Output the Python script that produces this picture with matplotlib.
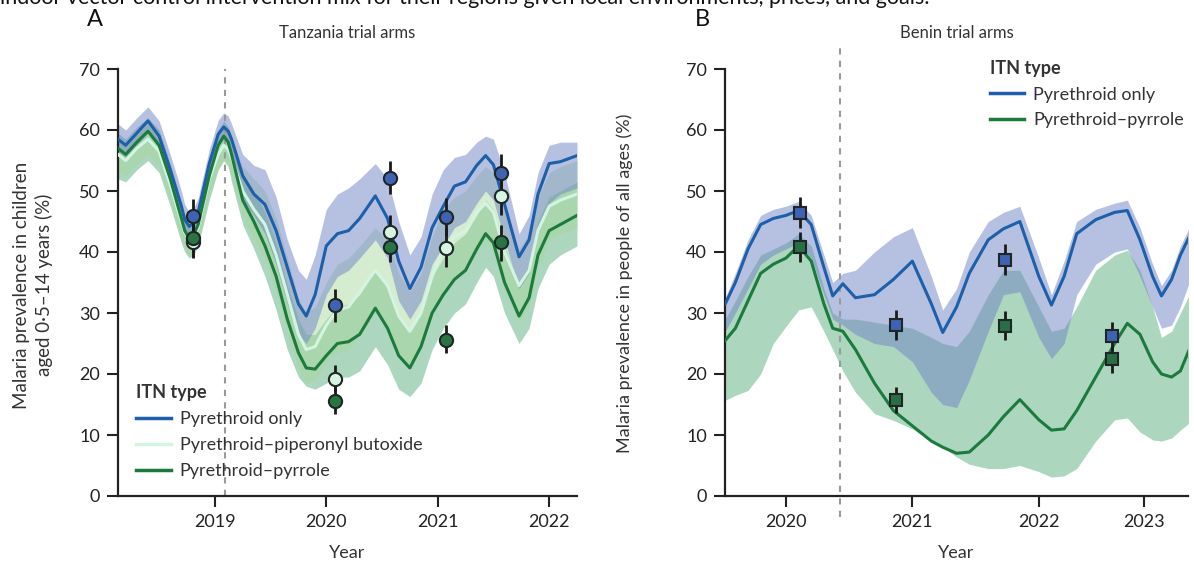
import matplotlib
matplotlib.use("Agg")
import matplotlib.pyplot as plt
from matplotlib.lines import Line2D

plt.rcParams['font.family'] = ['Lato', 'DejaVu Sans']
plt.rcParams['text.color'] = '#333333'
plt.rcParams['axes.labelcolor'] = '#333333'
plt.rcParams['xtick.color'] = '#222222'
plt.rcParams['ytick.color'] = '#222222'

# ---- Tanzania trial arms (panel A) ----
t_a = [2018.13, 2018.2, 2018.3, 2018.4, 2018.5, 2018.6, 2018.7, 2018.73, 2018.77, 2018.81,
       2018.85, 2018.95, 2019.03, 2019.08, 2019.12, 2019.15, 2019.25, 2019.35, 2019.45, 2019.55,
       2019.65, 2019.75, 2019.82, 2019.9, 2020.0, 2020.1, 2020.2, 2020.3, 2020.44, 2020.55,
       2020.65, 2020.75, 2020.85, 2020.95, 2021.05, 2021.15, 2021.25, 2021.35, 2021.43, 2021.5,
       2021.6, 2021.73, 2021.82, 2021.9, 2022.0, 2022.1, 2022.25]

a_pyr = [58.5, 57.5, 59.5, 61.5, 59, 53.5, 47.5, 45.3, 44.2, 44.8,
         46.5, 54.5, 59.3, 60.5, 59.8, 58.5, 52.5, 49.5, 47.8, 43.5,
         37.5, 31.5, 29.5, 33, 41, 43, 43.5, 45.5, 49.2, 45.5,
         38.5, 34, 37.5, 44, 47.5, 50.8, 51.5, 54.2, 55.8, 54.3,
         47.8, 39.2, 42, 49.5, 54.5, 54.8, 55.8]
a_pyr_hi = [61, 60, 62, 63.8, 61.5, 56, 50, 47.8, 46.5, 47.2,
            48.8, 56.8, 61.6, 62.8, 62.3, 61, 56, 54.2, 53.5, 49,
            42, 37, 35.5, 39.5, 47, 49.5, 50.5, 52, 54.5, 52,
            45, 39.5, 42.5, 49.5, 53.5, 55.5, 56, 58, 59, 58.5,
            53, 43, 46, 53, 57.5, 58, 58]
a_pyr_lo = [56.5, 55.5, 57.5, 59.5, 57, 51.5, 45.5, 43.3, 42.2, 42.8,
            44.5, 52.5, 57.3, 58.5, 57.5, 55.5, 48.5, 46, 43, 38,
            31.5, 26.5, 25, 27.5, 33, 36, 37, 39, 42, 39,
            32, 29, 32, 38, 41, 44, 45, 48, 50, 48.5,
            42, 34, 36.5, 43, 48, 49.5, 50.5]

a_pbo = [56, 55, 57, 58.5, 56.5, 51, 45, 43.2, 42, 42.5,
         44, 52, 56, 57.5, 56.8, 55.5, 50, 47, 44.5, 39.5,
         33, 26.5, 24, 24.5, 28, 30.5, 31, 33.5, 37, 34.5,
         29.5, 27, 30, 36, 40.5, 42.5, 43.5, 46.5, 48, 46.5,
         40, 34.5, 37, 43.5, 47.5, 48.5, 49.5]
a_pbo_hi = [58.5, 57.5, 59.5, 61, 59, 53.5, 47.5, 45.7, 44.5, 45,
            46.5, 54.5, 58.5, 60, 59.3, 58.5, 54, 52, 50, 45.5,
            39, 32.5, 30, 31, 35, 38, 39, 41, 44, 42,
            36.5, 33.5, 36.5, 42.5, 47, 49, 50, 52.5, 54, 53,
            46.5, 40.5, 43, 49, 53, 54, 55]
a_pbo_lo = [53.5, 52.5, 54.5, 56, 54, 48.5, 42.5, 40.5, 39.5, 40,
            41.5, 49.5, 53.5, 55, 54, 52.5, 46, 42, 39, 33.5,
            27, 21, 18.5, 19, 22, 23.5, 24, 26.5, 30, 27.5,
            23, 21, 24, 30, 34, 36, 37, 40, 42, 40,
            34, 28.5, 31, 37.5, 42, 43, 44]

a_ppf = [57, 56, 58, 59.8, 57.5, 52, 45.5, 43.5, 42.2, 42.8,
         44.5, 52.5, 57.5, 59, 58, 56, 48.5, 45, 41, 36,
         29, 23.5, 21, 20.8, 23, 25, 25.3, 26.5, 30.8, 27.5,
         23, 21, 24.5, 30, 33, 35.5, 37, 40.5, 43, 41.5,
         35, 29.5, 32.5, 39.5, 43.5, 44.5, 46]
a_ppf_hi = [59.5, 58.5, 60.5, 62, 60, 54.5, 48, 46, 44.5, 45.3,
            47, 55, 60, 61.5, 60.5, 59, 53, 50, 46.5, 41.5,
            34.5, 29, 26.5, 26.5, 29, 31, 31.5, 33, 37, 34,
            29.5, 27, 30.5, 36, 39, 41.5, 43, 46, 48.5, 47,
            41, 35, 38, 45, 49, 50, 51.5]
a_ppf_lo = [52, 51.5, 53.5, 55, 53, 47.5, 41.5, 40, 39, 39.5,
            41, 48.5, 53.5, 55, 54, 51.5, 44.5, 40.5, 36, 30.5,
            24, 19.5, 18, 17.5, 18.5, 19.5, 19.5, 20.5, 24.5, 21.5,
            17.5, 16.3, 18.5, 24, 27.5, 30, 31.5, 35, 37.5, 36,
            30, 25, 27.5, 34, 38, 39.5, 41]

# observed cross-sectional survey estimates with 95% CI
a_obs_t = [2018.80, 2020.08, 2020.575, 2021.075, 2021.565]
a_obs_pyr = [45.9, 31.3, 52.2, 45.7, 52.9]
a_obs_pyr_lo = [43.2, 28.6, 49.5, 42.7, 50.0]
a_obs_pyr_hi = [48.7, 34.0, 55.0, 48.8, 56.0]
a_obs_pbo = [41.7, 19.2, 43.2, 40.7, 49.1]
a_obs_pbo_lo = [39.0, 17.2, 40.5, 37.5, 46.0]
a_obs_pbo_hi = [44.5, 21.5, 46.0, 44.0, 52.0]
a_obs_ppf = [42.3, 15.5, 40.9, 25.6, 41.6]
a_obs_ppf_lo = [39.2, 13.5, 38.3, 23.4, 38.6]
a_obs_ppf_hi = [45.2, 17.8, 43.5, 28.0, 44.5]

a_ticks = [2019, 2020, 2021, 2022]

# ---- Benin trial arms (panel B) ----
t_b = [2019.52, 2019.6, 2019.7, 2019.8, 2019.9, 2020.0, 2020.1, 2020.2, 2020.3, 2020.37,
       2020.45, 2020.55, 2020.7, 2020.85, 2021.0, 2021.15, 2021.24, 2021.35, 2021.45, 2021.6,
       2021.72, 2021.85, 2022.0, 2022.1, 2022.2, 2022.3, 2022.45, 2022.6, 2022.7, 2022.8,
       2022.9, 2022.97, 2023.05, 2023.12, 2023.19]

b_pyr = [31.5, 35, 40.5, 44.5, 45.5, 46, 46.8, 44.5, 37.5, 32.8,
         34.8, 32.5, 33, 35.5, 38.5, 31.5, 26.8, 31, 36.5, 42,
         43.8, 45, 36, 31.3, 36, 43, 45.3, 46.5, 46.8, 42,
         36, 32.8, 35.5, 39.5, 42.5]
b_pyr_hi = [32.5, 36.5, 42, 46, 47, 47.5, 48.3, 46, 39.5, 35,
            36.5, 37, 40, 42.5, 44, 36, 30.5, 34, 40, 45,
            46.5, 47.5, 39, 33, 38.5, 45, 47, 48, 48.5, 44,
            38, 34.5, 37, 41, 44]
b_pyr_lo = [27, 30, 34, 38, 39.5, 40.5, 41.5, 39, 33, 29,
            28, 26.5, 25, 24.5, 22, 17, 15, 14.5, 19, 27,
            33, 33.5, 26, 22.5, 25, 33, 38, 40, 40.5, 36,
            31, 27.5, 28, 31, 35]

b_ppf = [25.5, 27.5, 32, 36.5, 38, 39, 41, 38.5, 31.5, 27.5,
         27, 24, 18.5, 14, 11.5, 9, 8, 7, 7.2, 10,
         13, 15.8, 12.5, 10.8, 11, 14, 19.5, 25, 28.3, 26.5,
         22, 20, 19.5, 20.5, 24]
b_ppf_hi = [29, 32, 36, 39.5, 40.5, 41.5, 43, 41, 34, 30,
            29, 29, 28.5, 28, 27.5, 26, 25, 24.5, 27, 33,
            37, 37, 31, 27, 27.5, 31, 37, 39.5, 40.3, 37,
            31, 26, 27, 30, 33]
b_ppf_lo = [15.7, 16.5, 17.3, 20, 25, 27.8, 30.5, 31, 27, 24,
            20.5, 17, 13.5, 12.4, 11, 9, 8, 6.4, 5.2, 4.5,
            4.5, 5, 4, 3.1, 3.3, 4.5, 9, 12.5, 12.8, 10.5,
            9.2, 9, 9.5, 10.8, 12]

b_obs_t = [2020.11, 2020.87, 2021.73, 2022.58]
b_obs_pyr = [46.4, 28.0, 38.7, 26.3]
b_obs_pyr_lo = [44.0, 25.5, 36.3, 24.0]
b_obs_pyr_hi = [49.0, 30.5, 41.3, 28.5]
b_obs_ppf = [40.8, 15.8, 27.9, 22.5]
b_obs_ppf_lo = [38.3, 13.6, 25.5, 20.2]
b_obs_ppf_hi = [43.2, 17.8, 30.4, 24.6]

b_tick_pos = [2020, 2021, 2022, 2022.83]
b_tick_labels = ['2020', '2021', '2022', '2023']

# colours
BLUE = '#1d5fa9'
BLUE_BAND = '#6f84c6'
PBO = '#d4f4e2'
PBO_BAND = '#a6d69a'
GREEN = '#1b7a3c'
GREEN_BAND = '#5aae7e'
DASH = '#9a9a9a'
EDGE = '#1e2626'


def style_axis(ax):
    for side in ['top', 'right']:
        ax.spines[side].set_visible(False)
    for side in ['left', 'bottom']:
        ax.spines[side].set_linewidth(1.6)
        ax.spines[side].set_color('#222222')
    ax.tick_params(direction='out', length=8, width=1.5, labelsize=13, pad=5)
    ax.set_ylim(0, 70)
    ax.set_yticks([0, 10, 20, 30, 40, 50, 60, 70])


def draw_obs(ax, t, v, lo, hi, fc, marker, ms):
    for ti, vi, l, h in zip(t, v, lo, hi):
        ax.plot([ti, ti], [l, h], color='#1a1a1a', lw=2, zorder=5, solid_capstyle='butt')
    ax.plot(t, v, linestyle='none', marker=marker, ms=ms, mfc=fc, mec=EDGE, mew=1.5, zorder=6)


fig = plt.figure(figsize=(11.94, 5.62), dpi=100)

fig.text(0.0, 1 - 4 / 562, 'indoor vector control intervention mix for their regions given local environments, prices, and goals.',
         fontsize=15.5, color='#111111', ha='left', va='baseline')

# panel A
axA = fig.add_axes([118 / 1194, 66 / 562, 459 / 1194, 427 / 562])
style_axis(axA)
axA.set_xlim(2018.131, 2022.25)
axA.set_xticks(a_ticks)
axA.set_xticklabels([str(y) for y in a_ticks])

axA.fill_between(t_a, a_ppf_lo, a_ppf_hi, color=GREEN_BAND, alpha=0.5, lw=0)
axA.fill_between(t_a, a_pbo_lo, a_pbo_hi, color=PBO_BAND, alpha=0.45, lw=0)
axA.fill_between(t_a, a_pyr_lo, a_pyr_hi, color=BLUE_BAND, alpha=0.5, lw=0)
axA.axvline(2019.088, color=DASH, lw=1.5, ls=(0, (3, 3)), zorder=1)
axA.plot(t_a, a_pyr, color=BLUE, lw=2.2, zorder=3)
axA.plot(t_a, a_pbo, color=PBO, lw=2.2, zorder=3)
axA.plot(t_a, a_ppf, color=GREEN, lw=2.2, zorder=3)

draw_obs(axA, a_obs_t, a_obs_pyr, a_obs_pyr_lo, a_obs_pyr_hi, '#3f62b2', 'o', 9.5)
draw_obs(axA, a_obs_t, a_obs_pbo, a_obs_pbo_lo, a_obs_pbo_hi, '#d7f3e2', 'o', 9.5)
draw_obs(axA, a_obs_t, a_obs_ppf, a_obs_ppf_lo, a_obs_ppf_hi, '#2a7444', 'o', 9.5)

axA.set_xlabel('Year', fontsize=13, labelpad=11)
axA.set_title('Tanzania trial arms', fontsize=12, pad=22, color='#333333')

handlesA = [Line2D([], [], color=BLUE, lw=2.5),
            Line2D([], [], color=PBO, lw=2.5),
            Line2D([], [], color=GREEN, lw=2.5)]
legA = axA.legend(handlesA, ['Pyrethroid only', 'Pyrethroid\u2013piperonyl butoxide', 'Pyrethroid\u2013pyrrole'],
                  title='ITN type', loc='upper left', bbox_to_anchor=(0.04, 0.262), frameon=False,
                  fontsize=13, title_fontsize=13, handlelength=1.9, handletextpad=0.5,
                  labelspacing=0.56, borderpad=0, borderaxespad=0, alignment='left')
legA.get_title().set_fontweight('bold')

fig.text(95 / 1194, 1 - 19 / 562, 'A', fontsize=17, ha='center', va='center', color='#111111')
fig.text(33 / 1194, 1 - 285 / 562, 'Malaria prevalence in children\naged 0\u00b75\u201314 years (%)',
         rotation=90, fontsize=13.5, ha='center', va='center', multialignment='center', linespacing=1.35)

# panel B
axB = fig.add_axes([725 / 1194, 66 / 562, 463 / 1194, 427 / 562])
style_axis(axB)
axB.set_xlim(2019.518, 2023.18)
axB.set_xticks(b_tick_pos)
axB.set_xticklabels(b_tick_labels)

axB.fill_between(t_b, b_ppf_lo, b_ppf_hi, color=GREEN_BAND, alpha=0.5, lw=0)
axB.fill_between(t_b, b_pyr_lo, b_pyr_hi, color=BLUE_BAND, alpha=0.5, lw=0)
axB.axvline(2020.43, ymin=-0.05, ymax=1.056, color=DASH, lw=1.5, ls=(0, (3, 3)), zorder=1, clip_on=False)
axB.plot(t_b, b_pyr, color=BLUE, lw=2.2, zorder=3)
axB.plot(t_b, b_ppf, color=GREEN, lw=2.2, zorder=3)

draw_obs(axB, b_obs_t, b_obs_pyr, b_obs_pyr_lo, b_obs_pyr_hi, '#3f62b2', 's', 8)
draw_obs(axB, b_obs_t, b_obs_ppf, b_obs_ppf_lo, b_obs_ppf_hi, '#2a6e45', 's', 8)

axB.set_xlabel('Year', fontsize=13, labelpad=11)
axB.set_title('Benin trial arms', fontsize=12, pad=22, color='#333333')

handlesB = [Line2D([], [], color=BLUE, lw=2.5),
            Line2D([], [], color=GREEN, lw=2.5)]
legB = axB.legend(handlesB, ['Pyrethroid only', 'Pyrethroid\u2013pyrrole'],
                  title='ITN type', loc='upper left', bbox_to_anchor=(0.572, 1.022), frameon=False,
                  fontsize=13, title_fontsize=13, handlelength=1.9, handletextpad=0.5,
                  labelspacing=0.55, borderpad=0, borderaxespad=0, alignment='left')
legB.get_title().set_fontweight('bold')

fig.text(702 / 1194, 1 - 19 / 562, 'B', fontsize=17, ha='center', va='center', color='#111111')
fig.text(625 / 1194, 1 - 283 / 562, 'Malaria prevalence in people of all ages (%)',
         rotation=90, fontsize=13, ha='center', va='center')

fig.savefig('out.png', dpi=100)
